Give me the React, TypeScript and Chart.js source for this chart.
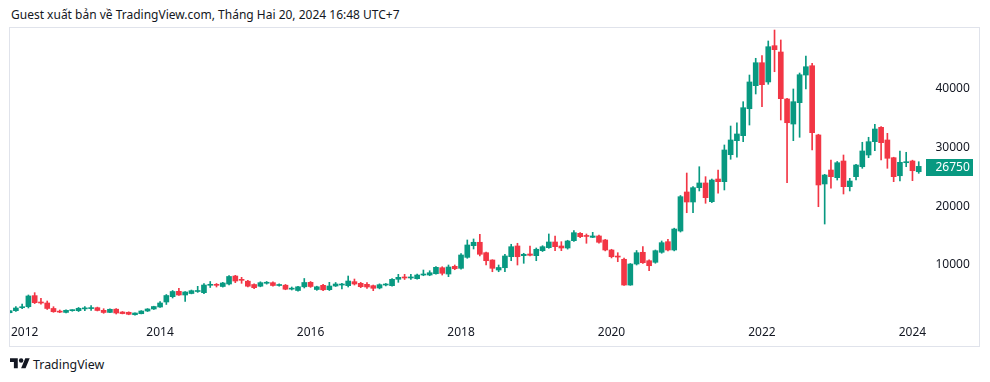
import React, { useEffect, useRef } from "react";
import { Chart, registerables } from "chart.js";

Chart.register(...registerables);

// Monthly candles, Jan 2012 .. Feb 2024
const START_YEAR = 2012;

const open = [
  1900, 2240, 2750, 2920, 4800, 3600, 3550, 2620, 2070, 1950, 2250, 2250,
  2550, 2600, 2750, 2300, 1950, 2500, 2020, 1970, 1560, 1730, 2190, 2530,
  2870, 3720, 4620, 5535, 4910, 5160, 5500, 5300, 6555, 6650, 6350, 6775,
  8130, 7450, 7250, 6690, 6400, 6900, 7000, 6520, 6570, 5900, 5670, 6300,
  7060, 5840, 6550, 5810, 6435, 6600, 6490, 7170, 6890, 6720, 6490, 6100,
  6600, 6490, 7570, 7900, 7800, 7675, 8300, 8300, 8520, 9540, 8470, 9780,
  9440, 11300, 13280, 13860, 12090, 10850, 9150, 9540, 11410, 13230, 11580, 11870,
  11580, 12430, 12940, 13910, 13230, 12890, 14130, 15380, 14930, 14700, 14930, 14250,
  12550, 11450, 10970, 6600, 10170, 12160, 10730, 10460, 12160, 13960, 12550, 15770,
  22400, 20700, 23130, 23930, 20750, 24600, 24150, 28730, 31110, 31960, 36540, 40450,
  44350, 41080, 47240, 46170, 38190, 33940, 37560, 42260, 43840, 32080, 23760, 26130,
  24830, 27660, 23300, 25000, 26690, 28680, 30940, 33380, 31230, 28220, 25160, 27370,
  27660, 25840,
];
const high = [
  2300, 2950, 3380, 4910, 5300, 4350, 3890, 2920, 2360, 2400, 2400, 2790,
  2920, 3120, 2850, 2580, 2550, 2600, 2100, 2050, 1900, 2250, 2600, 3000,
  3800, 4990, 5670, 6060, 5500, 5750, 6380, 6830, 7200, 6860, 7050, 8220,
  8250, 7910, 7400, 6800, 7150, 7200, 7150, 6800, 6700, 6265, 6400, 7710,
  7200, 6400, 6700, 7060, 7030, 6890, 8130, 7620, 7050, 7000, 6600, 6800,
  6860, 7700, 8420, 8420, 8400, 8450, 9150, 9030, 9750, 9710, 10000, 10000,
  11950, 14250, 14420, 15210, 12210, 10900, 10000, 11820, 13520, 13690, 11990, 13230,
  12890, 13280, 15270, 14930, 13960, 14200, 15830, 15500, 15270, 15550, 15100, 14350,
  12670, 12090, 11190, 10250, 12460, 13110, 10900, 12550, 14080, 14370, 16250, 21800,
  25620, 23300, 26690, 25000, 24600, 26130, 30380, 33600, 34160, 37730, 42260, 45100,
  45540, 48040, 49900, 48210, 38300, 39890, 42600, 45490, 44250, 32200, 25400, 27830,
  27580, 28680, 24720, 27100, 30840, 31690, 33890, 33490, 32360, 28300, 29360, 29140,
  27800, 27540,
];
const low = [
  1850, 2100, 2580, 2700, 3450, 3330, 2450, 1970, 1900, 1850, 2150, 2100,
  2240, 2300, 2200, 1800, 1900, 1680, 1700, 1550, 1500, 1700, 2100, 2450,
  2800, 3300, 4400, 4850, 3800, 5100, 5350, 5150, 6180, 6265, 6250, 6600,
  7000, 6890, 6300, 6000, 6300, 6750, 6400, 6400, 5800, 5756, 5550, 6100,
  6200, 5700, 5650, 5670, 6350, 5930, 6265, 6600, 6150, 6045, 5640, 5950,
  6450, 6400, 7060, 7540, 7550, 7600, 8180, 8180, 8450, 8300, 8015, 9200,
  9300, 11140, 12720, 11530, 10000, 8860, 8860, 8860, 10730, 10000, 10290, 11530,
  10730, 12290, 12840, 12430, 12430, 12700, 14000, 14650, 13690, 14650, 13700, 12400,
  11200, 10560, 6550, 6550, 10000, 10290, 9030, 10300, 12000, 12380, 12400, 15600,
  18880, 18880, 22570, 20480, 20600, 22180, 22740, 27950, 28290, 30940, 33770, 39040,
  36880, 40690, 42820, 34620, 23980, 31110, 31690, 39890, 29530, 19900, 16960, 23030,
  24430, 22060, 22570, 24430, 26420, 28220, 29410, 27830, 26420, 24150, 24260, 26690,
  24320, 25570,
];
const close = [
  2240, 2700, 2920, 4740, 3600, 3550, 2620, 2070, 2000, 2310, 2300, 2650,
  2600, 2700, 2280, 1940, 2480, 1850, 1750, 1630, 1850, 2190, 2530, 2950,
  3550, 4820, 5500, 4910, 5420, 5640, 5560, 6600, 6650, 6550, 6945, 8050,
  7280, 7400, 6400, 6150, 7000, 6950, 6520, 6600, 5890, 5960, 6300, 7030,
  6350, 6300, 5790, 6435, 6775, 6650, 7280, 6775, 6320, 6265, 6045, 6660,
  6650, 7570, 7910, 7800, 7880, 8300, 8420, 8690, 9610, 8590, 9660, 9370,
  11700, 13400, 13860, 11820, 10730, 9440, 9580, 11530, 13110, 11410, 11820, 11650,
  12670, 13110, 13910, 13110, 12890, 14080, 15490, 14810, 14850, 14930, 13860, 12550,
  11410, 11350, 6600, 10170, 12090, 10390, 9880, 12430, 13790, 12550, 16110, 21600,
  20700, 23130, 23930, 21430, 24430, 24150, 29530, 31230, 32250, 36710, 41080, 44350,
  40620, 47070, 46560, 38240, 34160, 37730, 42310, 43670, 32470, 23590, 25280, 25000,
  27370, 23300, 24260, 26980, 29360, 30940, 33090, 30770, 28120, 25000, 27440, 27440,
  26010, 26750,
];

const months = open.map(
  (_, i) => `${START_YEAR + Math.floor(i / 12)}-${String((i % 12) + 1).padStart(2, "0")}`
);
const yearLabels = ["2012", "2014", "2016", "2018", "2020", "2022", "2024"];
const priceTicks = [10000, 20000, 30000, 40000];
const lastPrice = close[close.length - 1];

const UP = "#089981";
const DOWN = "#F23645";
const TEXT = "#131722";
const FRAME = "#e0e3eb";
const FONT = '"Noto Sans", sans-serif';

const HEADER = "Guest xuất bản về TradingView.com, Tháng Hai 20, 2024 16:48 UTC+7";

const overlayPlugin = {
  id: "tvOverlay",
  afterDraw(chart: any) {
    const { ctx, chartArea, scales, width, height } = chart;
    const xs = scales.x;
    const ys = scales.y;
    ctx.save();
    // frame
    ctx.strokeStyle = FRAME;
    ctx.lineWidth = 1;
    ctx.strokeRect(0.5, 0.5, width - 1, height - 1);

    ctx.font = `12px ${FONT}`;
    ctx.fillStyle = TEXT;
    ctx.textBaseline = "middle";
    // price labels
    const labelX = chartArea.right + 10.5;
    ctx.textAlign = "left";
    priceTicks.forEach((v) => {
      const y = ys.getPixelForValue(v);
      ctx.fillText(String(v), labelX, y);
    });
    // last price box
    const ly = ys.getPixelForValue(lastPrice);
    const lastUp = close[close.length - 1] >= open[open.length - 1];
    ctx.fillStyle = lastUp ? UP : DOWN;
    ctx.fillRect(chartArea.right + 1, Math.round(ly - 7.5), 47, 17);
    ctx.fillStyle = "#ffffff";
    ctx.fillText(String(lastPrice), labelX, Math.round(ly - 7.5) + 8.5);

    // time labels
    ctx.fillStyle = TEXT;
    ctx.textAlign = "center";
    const ty = chartArea.bottom + 12.5;
    yearLabels.forEach((yl) => {
      const idx = months.indexOf(`${yl}-01`);
      if (idx < 0) return;
      let x = xs.getPixelForValue(idx);
      const w = ctx.measureText(yl).width;
      if (x - w / 2 < chartArea.left + 1) x = chartArea.left + 1 + w / 2;
      ctx.fillText(yl, x, ty);
    });
    ctx.restore();
  },
};

export default function App() {
  const ref = useRef<HTMLCanvasElement | null>(null);

  useEffect(() => {
    document.body.style.margin = "0";
    const canvas = ref.current;
    if (!canvas) return;
    const colors = close.map((c, i) => (c >= open[i] ? UP : DOWN));
    const chart = new Chart(canvas, {
      type: "bar",
      data: {
        datasets: [
          {
            label: "body",
            data: months.map((_, i) => ({
              x: i,
              y: [Math.min(open[i], close[i]), Math.max(open[i], close[i])],
            })) as any,
            backgroundColor: colors,
            borderWidth: 0,
            barThickness: 5,
            minBarLength: 1,
            grouped: false,
          } as any,
          {
            label: "wick",
            data: months.map((_, i) => ({ x: i, y: [low[i], high[i]] })) as any,
            backgroundColor: colors,
            borderWidth: 0,
            barThickness: 1,
            grouped: false,
          } as any,
        ],
      },
      options: {
        animation: false,
        responsive: false,
        maintainAspectRatio: false,
        events: [],
        layout: { padding: { left: 1, top: 1, right: 55, bottom: 27 } },
        plugins: { legend: { display: false }, tooltip: { enabled: false } },
        scales: {
          x: { type: "linear", min: 0.064, max: 146.0, display: false, offset: false },
          y: { type: "linear", min: 662, max: 50244, display: false },
        },
      } as any,
      plugins: [overlayPlugin],
    });
    return () => chart.destroy();
  }, []);

  return (
    <div
      style={{
        position: "fixed",
        left: 0,
        top: 0,
        width: 990,
        height: 382,
        background: "#ffffff",
        fontFamily: FONT,
        color: TEXT,
      }}
    >
      <div
        style={{
          position: "absolute",
          left: 11,
          top: 8,
          fontSize: 12,
          lineHeight: "14px",
          whiteSpace: "nowrap",
        }}
      >
        {HEADER}
      </div>
      <canvas
        ref={ref}
        width={971}
        height={320}
        style={{ position: "absolute", left: 9, top: 27, width: 971, height: 320 }}
      />
      <svg
        width={20}
        height={15.56}
        viewBox="0 0 36 28"
        style={{ position: "absolute", left: 10, top: 355.8 }}
      >
        <path d="M14 22H7V11H0V4h14v18zM28 22h-8l7.5-18h8L28 22z" fill={TEXT} />
        <circle cx={20} cy={8} r={4} fill={TEXT} />
      </svg>
      <div
        style={{
          position: "absolute",
          left: 33,
          top: 356.5,
          fontSize: 12.4,
          lineHeight: "16px",
          whiteSpace: "nowrap",
        }}
      >
        TradingView
      </div>
    </div>
  );
}
